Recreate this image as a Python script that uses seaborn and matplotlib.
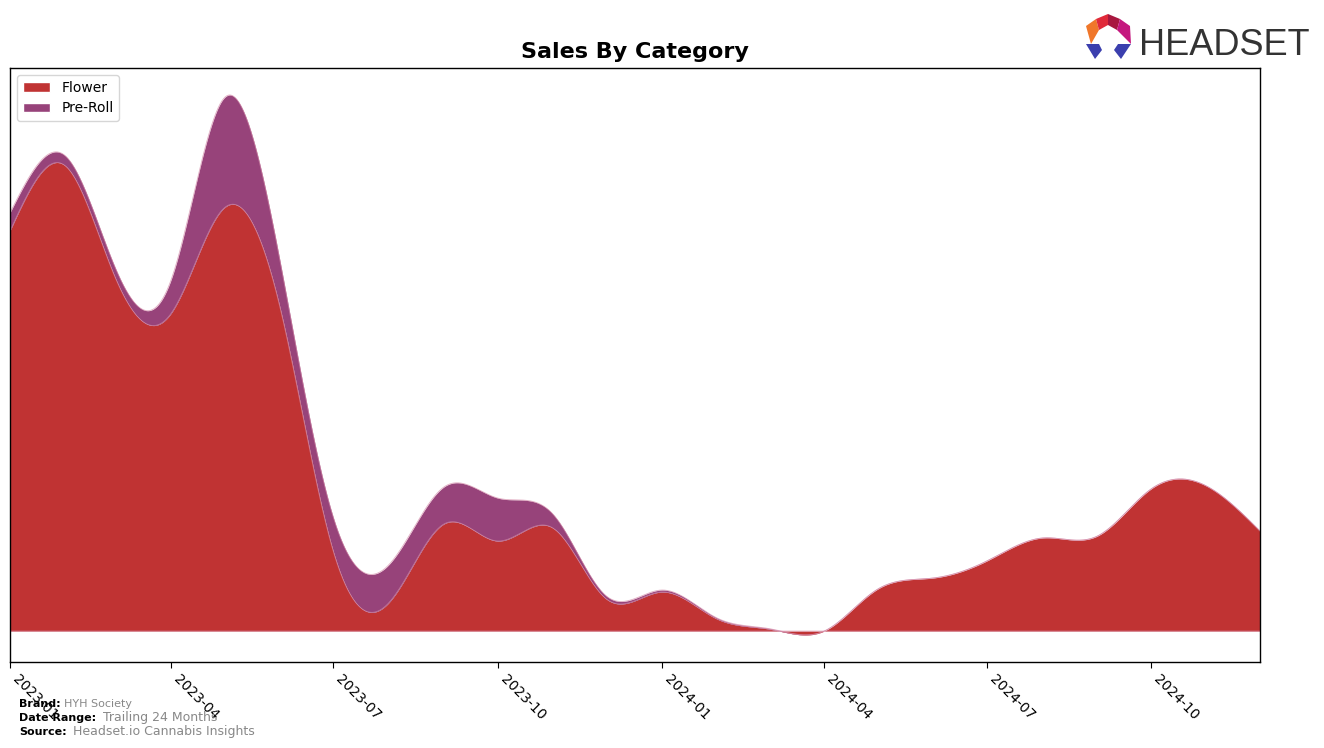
import numpy as np
import pandas as pd
import matplotlib
matplotlib.use("Agg")
import matplotlib.pyplot as plt
import matplotlib.dates as mdates
from matplotlib.patches import Patch, Polygon
import seaborn as sns

# ---------------- data (monthly, arbitrary sales units) ----------------
months = pd.date_range("2023-01-01", "2024-12-01", freq="MS")
flower = [40.0, 46.5, 35.3, 31.7, 42.3, 32.5, 8.0, 2.8, 10.7, 9.0, 10.3, 3.2,
          3.9, 1.2, 0.2, 0.0, 4.2, 5.3, 7.0, 9.3, 9.5, 14.2, 14.5, 10.0]
preroll = [1.8, 1.0, 1.0, 3.3, 11.0, 4.7, 3.4, 3.8, 3.7, 4.3, 1.4, 0.3,
           0.2, 0.1, 0.05, 0.0, 0.0, 0.0, 0.0, 0.0, 0.0, 0.0, 0.0, 0.0]
categories = ["Flower", "Pre-Roll"]
colors = {"Flower": "#c03333", "Pre-Roll": "#97437a"}
tick_dates = pd.date_range("2023-01-01", "2024-10-01", freq="3MS")

# ---------------- smoothing for rendering ----------------
def natural_spline(x, y, xs):
    x = np.asarray(x, float); y = np.asarray(y, float)
    n = len(x); h = np.diff(x)
    A = np.zeros((n, n)); r = np.zeros(n)
    A[0, 0] = 1; A[-1, -1] = 1
    for i in range(1, n - 1):
        A[i, i - 1] = h[i - 1]; A[i, i] = 2 * (h[i - 1] + h[i]); A[i, i + 1] = h[i]
        r[i] = 6 * ((y[i + 1] - y[i]) / h[i] - (y[i] - y[i - 1]) / h[i - 1])
    M = np.linalg.solve(A, r)
    idx = np.clip(np.searchsorted(x, xs) - 1, 0, n - 2)
    x0 = x[idx]; x1 = x[idx + 1]; hh = x1 - x0
    a = (x1 - xs) / hh; b = (xs - x0) / hh
    return (a * y[idx] + b * y[idx + 1]
            + ((a ** 3 - a) * M[idx] + (b ** 3 - b) * M[idx + 1]) * hh ** 2 / 6)

xnum = mdates.date2num(months.to_pydatetime())
xs = np.linspace(xnum[0], xnum[-1], 1400)
f_s = natural_spline(xnum, flower, xs)
p_s = natural_spline(xnum, preroll, xs)
top = f_s + p_s
xs_dates = mdates.num2date(xs)

# ---------------- figure ----------------
sns.set_style("white")
plt.rcParams["font.family"] = ["DejaVu Sans"]
plt.rcParams["text.color"] = "black"
plt.rcParams["xtick.color"] = "black"
plt.rcParams["axes.labelcolor"] = "black"
fig = plt.figure(figsize=(13.24, 7.48), dpi=100)
ax = fig.add_axes([10 / 1324, 86 / 748, 1250 / 1324, 594 / 748])

ax.fill_between(xs_dates, 0, f_s, color=colors["Flower"], linewidth=0)
ax.fill_between(xs_dates, f_s, top, color=colors["Pre-Roll"], linewidth=0)
edge_df = pd.DataFrame({"date": list(xs_dates) * 3,
                        "val": np.concatenate([np.zeros_like(xs), f_s, top]),
                        "line": ["base"] * len(xs) + ["f"] * len(xs) + ["t"] * len(xs)})
sns.lineplot(data=edge_df, x="date", y="val", units="line", estimator=None,
             color="#d58aa8", linewidth=0.6, alpha=0.7, ax=ax, legend=False)

ax.set_xlim(months[0], months[-1])
ax.set_xticks(tick_dates)
ax.xaxis.set_major_formatter(mdates.DateFormatter("%Y-%m"))
plt.setp(ax.get_xticklabels(), rotation=-45, ha="left", fontsize=10, color="black")
ax.tick_params(axis="x", length=4, color="black", bottom=True)
ax.set_yticks([])
ax.set_xlabel(""); ax.set_ylabel("")
for s in ax.spines.values():
    s.set_color("black"); s.set_linewidth(1.0); s.set_visible(True)

ax.set_title("Sales By Category", fontsize=16, fontweight="bold", pad=7, color="black")

handles = [Patch(facecolor=colors[c], label=c) for c in categories]
ax.legend(handles=handles, loc="upper left", fontsize=10, frameon=True,
          borderaxespad=0.5, handlelength=2, edgecolor="#cccccc", fancybox=True)

# ---------------- footer ----------------
def ftxt(xp, yp, s, **kw):
    fig.text(xp / 1324, 1 - yp / 748, s, va="baseline", **kw)

ftxt(19, 707, "Brand:", fontsize=8, fontweight="bold", color="black")
ftxt(64, 707, "HYH Society", fontsize=8, color="#888888")
ftxt(19, 721, "Date Range:", fontsize=8, fontweight="bold", color="black")
ftxt(103, 721, "Trailing 24 Months", fontsize=9, color="#888888")
ftxt(19, 735, "Source:", fontsize=8, fontweight="bold", color="black")
ftxt(73, 735, "Headset.io Cannabis Insights", fontsize=9, color="#888888")

# ---------------- logo ----------------
def P(pts):
    return [(px / 1324, 1 - py / 748) for px, py in pts]

logo_parts = [
    ([(1086, 26), (1096, 19), (1099, 30), (1091, 44)], "#f0772a"),
    ([(1096, 19), (1108, 14), (1108, 25), (1099, 30)], "#e02a3a"),
    ([(1108, 14), (1120, 19), (1117, 30), (1108, 25)], "#a8173f"),
    ([(1120, 19), (1130, 26), (1131, 44), (1117, 30)], "#c4187e"),
    ([(1086, 44), (1099, 44), (1102, 50), (1095, 59)], "#3b3fae"),
    ([(1131, 44), (1118, 44), (1114, 50), (1121, 59)], "#3b3fae"),
]
for pts, col in logo_parts:
    fig.patches.append(Polygon(P(pts), closed=True, facecolor=col, edgecolor="none",
                               transform=fig.transFigure, figure=fig))
fig.text(1139 / 1324, 1 - 55 / 748, "HEADSET", fontsize=26, color="#333333",
         family=["Liberation Sans", "DejaVu Sans"], va="baseline")

fig.savefig("out.png", dpi=100)
